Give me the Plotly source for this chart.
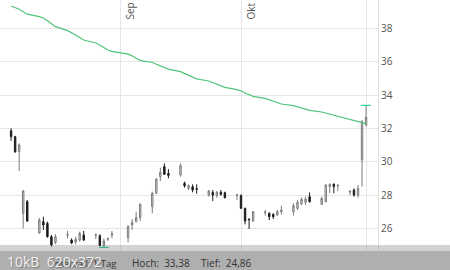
import plotly.graph_objects as go

dates = [
    "2019-08-05", "2019-08-06", "2019-08-07", "2019-08-08", "2019-08-09",
    "2019-08-12", "2019-08-13", "2019-08-14", "2019-08-15", "2019-08-16",
    "2019-08-19", "2019-08-20", "2019-08-21", "2019-08-22", "2019-08-23",
    "2019-08-26", "2019-08-27", "2019-08-28", "2019-08-29", "2019-08-30",
    "2019-09-03", "2019-09-04", "2019-09-05", "2019-09-06",
    "2019-09-09", "2019-09-10", "2019-09-11", "2019-09-12", "2019-09-13",
    "2019-09-16", "2019-09-17", "2019-09-18", "2019-09-19", "2019-09-20",
    "2019-09-23", "2019-09-24", "2019-09-25", "2019-09-26", "2019-09-27",
    "2019-09-30", "2019-10-01", "2019-10-02", "2019-10-03", "2019-10-04",
    "2019-10-07", "2019-10-08", "2019-10-09", "2019-10-10", "2019-10-11",
    "2019-10-14", "2019-10-15", "2019-10-16", "2019-10-17", "2019-10-18",
    "2019-10-21", "2019-10-22", "2019-10-23", "2019-10-24", "2019-10-25",
    "2019-10-28", "2019-10-29", "2019-10-30", "2019-10-31", "2019-11-01",
]

open_ = [
    31.85, 31.50, 30.60, 26.90, 27.60,
    25.72, 26.40, 26.30, 25.50, 25.15,
    25.58, 25.30, 25.18, 25.30, 25.60,
    25.58, 25.56, 24.96, 25.34, 25.60,
    25.44, 26.20, 26.40, 26.64,
    27.30, 28.10, 29.10, 29.70, 29.30,
    29.20, 28.70, 28.40, 28.50, 28.38,
    28.00, 28.16, 27.96, 28.16, 28.14,
    27.98, 27.96, 27.20, 26.56, 26.44,
    26.94, 26.90, 26.84, 26.80, 27.00,
    27.00, 27.20, 27.46, 27.56, 27.90,
    27.44, 27.60, 28.50, 28.64, 28.54,
    28.18, 28.30, 28.00, 30.10, 32.20,
]
high = [
    32.00, 31.55, 31.10, 28.30, 27.70,
    26.62, 26.70, 26.40, 25.60, 25.65,
    25.85, 25.40, 25.50, 25.80, 25.84,
    25.70, 25.64, 25.40, 25.44, 25.84,
    26.20, 26.56, 27.00, 27.50,
    28.20, 29.00, 29.64, 29.90, 29.56,
    29.90, 28.80, 28.64, 28.64, 28.64,
    28.30, 28.30, 28.24, 28.30, 28.20,
    28.06, 28.04, 27.24, 26.58, 27.04,
    27.10, 26.96, 26.90, 27.10, 27.36,
    27.50, 27.70, 27.84, 27.90, 28.16,
    27.90, 28.64, 28.70, 28.70, 28.64,
    28.30, 28.40, 28.60, 32.50, 33.38,
]
low = [
    31.25, 30.55, 29.44, 26.00, 26.40,
    25.68, 25.90, 25.44, 24.90, 25.05,
    25.40, 25.05, 25.04, 25.20, 25.24,
    25.36, 24.94, 24.86, 25.24, 25.40,
    25.16, 25.90, 26.36, 26.44,
    26.90, 28.08, 28.84, 29.20, 29.00,
    29.10, 28.44, 28.30, 28.16, 28.08,
    27.90, 27.64, 27.84, 27.96, 27.80,
    27.70, 27.16, 26.24, 25.96, 26.40,
    26.76, 26.50, 26.56, 26.76, 26.84,
    26.76, 27.10, 27.40, 27.40, 27.54,
    27.40, 27.56, 28.10, 28.10, 28.24,
    28.00, 27.90, 27.84, 28.50, 32.10,
]
close = [
    31.50, 30.58, 31.00, 28.24, 26.44,
    26.50, 26.20, 25.50, 25.00, 25.50,
    25.62, 25.12, 25.34, 25.70, 25.30,
    25.62, 24.96, 25.24, 25.38, 25.66,
    26.10, 26.36, 26.64, 27.44,
    28.10, 28.96, 29.36, 29.24, 29.18,
    29.76, 28.56, 28.56, 28.30, 28.34,
    28.24, 28.00, 28.16, 28.04, 27.84,
    28.02, 27.20, 26.44, 26.52, 27.00,
    26.98, 26.70, 26.70, 27.00, 27.10,
    27.36, 27.56, 27.74, 27.76, 27.60,
    27.80, 28.60, 28.64, 28.50, 28.58,
    28.22, 28.00, 28.40, 32.40, 32.66,
]
avg_line = [
    39.34, 39.25, 39.15, 39.00, 38.85,
    38.70, 38.62, 38.45, 38.25, 38.10,
    37.86, 37.75, 37.60, 37.45, 37.30,
    37.12, 37.00, 36.85, 36.70, 36.62,
    36.45, 36.35, 36.20, 36.08,
    35.95, 35.85, 35.75, 35.62, 35.55,
    35.40, 35.30, 35.18, 35.06, 34.97,
    34.84, 34.74, 34.64, 34.54, 34.46,
    34.32, 34.25, 34.12, 34.00, 33.92,
    33.80, 33.72, 33.62, 33.55, 33.46,
    33.36, 33.30, 33.22, 33.15, 33.08,
    32.98, 32.92, 32.85, 32.78, 32.70,
    32.52, 32.46, 32.40, 32.34, 32.26,
]
month_labels = [("2019-09-01", "Sep"), ("2019-10-01", "Okt")]
y_ticks = [26, 28, 30, 32, 34, 36, 38]
footer_prefix = "34,5 Mrd"
interval_text = "Intervall: 1 Tag"
watermark_text = "10kB  620x372"

hi_val = max(high)
lo_val = min(low)
hi_date = dates[high.index(hi_val)]
lo_date = dates[low.index(lo_val)]


def de(v):
    return f"{v:.2f}".replace(".", ",")


fig = go.Figure()
fig.add_trace(go.Scatter(
    x=dates, y=avg_line, mode="lines",
    line=dict(color="#4fc57a", width=1.2), hoverinfo="skip", showlegend=False,
))
fig.add_trace(go.Candlestick(
    x=dates, open=open_, high=high, low=low, close=close,
    increasing=dict(line=dict(color="#7c7c7c", width=1), fillcolor="#dcdcdc"),
    decreasing=dict(line=dict(color="#1c1c1c", width=1), fillcolor="#1c1c1c"),
    whiskerwidth=0, showlegend=False,
))
fig.add_trace(go.Scatter(
    x=[hi_date, lo_date], y=[hi_val, lo_val], mode="markers",
    marker=dict(symbol="line-ew-open", size=7, line=dict(color="#555", width=1)),
    hoverinfo="skip", showlegend=False,
))

annotations = []
for d, t in month_labels:
    annotations.append(dict(
        x=d, y=1, xref="x", yref="paper", text=t, textangle=-90,
        showarrow=False, xanchor="left", yanchor="top", xshift=0, yshift=-1,
        font=dict(family="Open Sans", size=10, color="#555"),
    ))

foot_y = -0.052
annotations += [
    dict(x=-2, y=foot_y, xref="paper", yref="paper", text=footer_prefix,
         showarrow=False, xanchor="left", yanchor="middle",
         font=dict(family="Open Sans", size=10, color="#333")),
    dict(x=50 / 378, y=foot_y, xref="paper", yref="paper", text=interval_text,
         showarrow=False, xanchor="left", yanchor="middle",
         font=dict(family="Open Sans", size=9.5, color="#333")),
    dict(x=130 / 378, y=foot_y, xref="paper", yref="paper",
         text=f"Hoch:\u00a0\u00a0{de(hi_val)}",
         showarrow=False, xanchor="left", yanchor="middle",
         font=dict(family="Open Sans", size=10, color="#333")),
    dict(x=199 / 378, y=foot_y, xref="paper", yref="paper",
         text=f"Tief:\u00a0\u00a0{de(lo_val)}",
         showarrow=False, xanchor="left", yanchor="middle",
         font=dict(family="Open Sans", size=10, color="#333")),
    dict(x=5 / 378, y=-0.046, xref="paper", yref="paper", text=watermark_text,
         showarrow=False, xanchor="left", yanchor="middle",
         font=dict(family="Open Sans", size=14, color="#f2f2f2",
                   shadow="1px 1px 1px #777")),
]

shapes = [
    dict(type="rect", xref="paper", yref="paper", x0=-0.01, x1=1.2,
         y0=-0.1, y1=-0.004, fillcolor="#cccccc", line=dict(width=0),
         layer="above"),
    dict(type="rect", xref="paper", yref="paper", x0=-0.01, x1=1.2,
         y0=-0.1, y1=0.02, fillcolor="rgba(110,110,110,0.3)",
         line=dict(width=0), layer="above"),
]

fig.update_layout(
    width=450, height=270,
    margin=dict(l=0, r=72, t=0, b=20),
    paper_bgcolor="white", plot_bgcolor="white",
    showlegend=False, boxgap=0.5,
    annotations=annotations, shapes=shapes,
    font=dict(family="Open Sans", size=10, color="#555"),
    xaxis=dict(
        type="date", range=["2019-08-02 06:00", "2019-11-03 23:00"],
        rangeslider=dict(visible=False),
        tick0="2019-08-01", dtick="M1", showticklabels=False, ticks="",
        showgrid=True, gridcolor="#e6e6e6", gridwidth=1,
        zeroline=False, showline=False,
    ),
    yaxis=dict(
        side="right", range=[24.7, 39.7], tickvals=y_ticks,
        showgrid=True, gridcolor="#e6e6e6", gridwidth=1, zeroline=False,
        showline=True, linecolor="#e0e0e0", linewidth=1, ticks="",
        tickfont=dict(family="Open Sans", size=10, color="#555"),
    ),
)

fig.write_html("out.html")
